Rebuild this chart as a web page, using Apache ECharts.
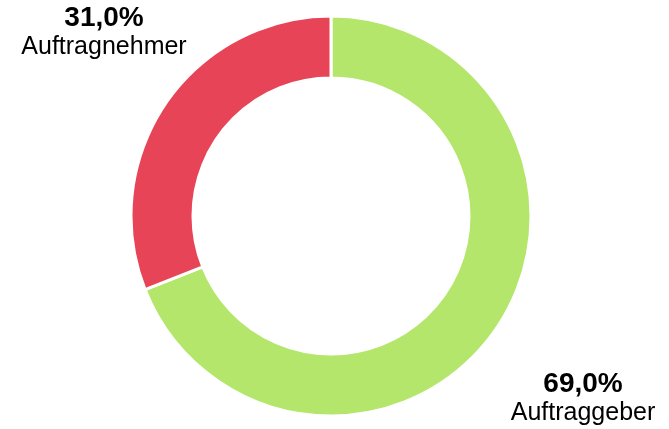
<!DOCTYPE html>
<html>
<head>
<meta charset="utf-8">
<script src="https://cdn.jsdelivr.net/npm/echarts@6/dist/echarts.min.js"></script>
<style>
  html, body { margin: 0; padding: 0; background: #fff; }
  #chart { width: 669px; height: 429px; }
</style>
</head>
<body>
<div id="chart"></div>
<script>
  const names = ['Auftraggeber', 'Auftragnehmer'];
  const values = [69.0, 31.0];
  const colors = ['#b3e66a', '#e84457'];
  // where each label block sits (center)
  const labelPos = [[583, 399], [104, 33]];

  const chart = echarts.init(document.getElementById('chart'));
  chart.setOption({
    animation: false,
    series: [{
      type: 'pie',
      center: [331, 216],
      radius: [138, 200],
      startAngle: 90,
      clockwise: true,
      itemStyle: { borderColor: '#fff', borderWidth: 3 },
      label: {
        show: true,
        position: 'outside',
        overflow: 'none',
        formatter: p => '{a|' + p.value.toFixed(1).replace('.', ',') + '%}\n{b|' + p.name + '}',
        rich: {
          a: { fontFamily: 'Liberation Sans', fontSize: 28, fontWeight: 'bold', color: '#000', lineHeight: 29, align: 'center' },
          b: { fontFamily: 'Liberation Sans', fontSize: 25, color: '#000', lineHeight: 29, align: 'center' }
        }
      },
      labelLine: { show: false },
      labelLayout: p => ({
        x: labelPos[p.dataIndex][0],
        y: labelPos[p.dataIndex][1],
        align: 'center',
        verticalAlign: 'middle'
      }),
      emphasis: { disabled: true },
      data: names.map((n, i) => ({ name: n, value: values[i], itemStyle: { color: colors[i] } }))
    }]
  });
</script>
</body>
</html>
